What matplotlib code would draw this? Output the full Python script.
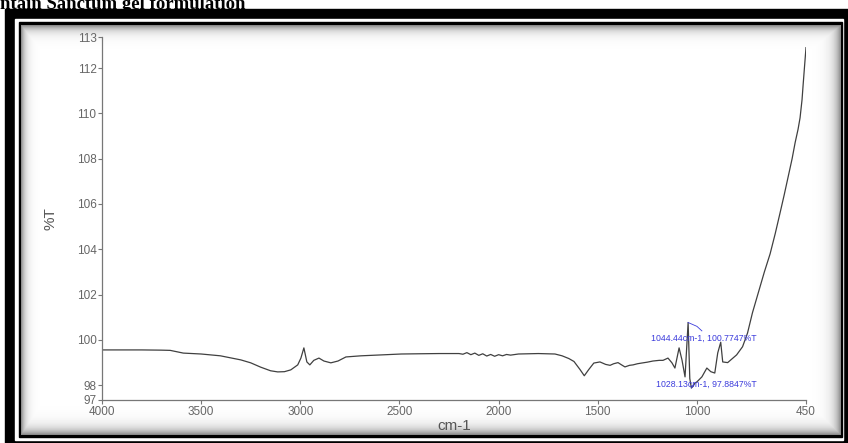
import numpy as np
import matplotlib
matplotlib.use("Agg")
import matplotlib.pyplot as plt
from matplotlib.patches import Rectangle

plt.rcParams['font.family'] = ['Liberation Sans', 'DejaVu Sans']

# FTIR spectrum
wavenumber = [4000, 3900, 3800, 3700, 3656, 3590, 3500, 3403, 3300, 3250, 3200, 3150,
              3114, 3080, 3048, 3013, 2997, 2982, 2967, 2952, 2932, 2906, 2881, 2846,
              2810, 2770, 2694, 2592, 2491, 2400, 2300, 2200, 2180, 2160, 2140, 2120,
              2100, 2080, 2060, 2040, 2020, 2000, 1980, 1960, 1940, 1900, 1800, 1716,
              1680, 1646, 1620, 1590, 1568, 1545, 1520, 1489, 1460, 1438, 1420, 1398,
              1380, 1363, 1340, 1322, 1300, 1272, 1250, 1222, 1190, 1171, 1146, 1126,
              1111, 1090, 1075, 1060, 1044.44, 1036, 1028.13, 1020, 1010, 1000, 975,
              950, 930, 910, 895, 880, 870, 845, 800, 770, 745, 720, 690, 660, 631,
              605, 581, 560, 540, 520, 505, 490, 480, 470, 465, 458, 450]
transmittance = [99.56, 99.56, 99.56, 99.55, 99.54, 99.42, 99.38, 99.30, 99.12, 98.99, 98.80, 98.64,
                 98.59, 98.60, 98.68, 98.90, 99.20, 99.65, 99.03, 98.90, 99.10, 99.20, 99.07, 98.99,
                 99.07, 99.25, 99.30, 99.34, 99.38, 99.39, 99.40, 99.40, 99.37, 99.44, 99.35, 99.42,
                 99.32, 99.39, 99.29, 99.36, 99.28, 99.35, 99.30, 99.36, 99.33, 99.38, 99.40, 99.38,
                 99.30, 99.18, 99.05, 98.70, 98.42, 98.70, 98.98, 99.03, 98.92, 98.88, 98.95, 99.00,
                 98.90, 98.81, 98.88, 98.90, 98.95, 98.99, 99.02, 99.07, 99.10, 99.10, 99.20, 98.99,
                 98.76, 99.65, 99.10, 98.37, 100.77, 98.30, 97.88, 97.95, 98.10, 98.15, 98.37,
                 98.76, 98.60, 98.54, 99.43, 99.90, 99.03, 99.00, 99.34, 99.70, 100.30, 101.20, 102.10, 103.00, 103.80,
                 104.70, 105.60, 106.40, 107.20, 108.00, 108.70, 109.30, 109.80, 110.60, 111.20, 112.00, 112.90]

x_ticks = [4000, 3500, 3000, 2500, 2000, 1500, 1000, 450]
x_labels = ['4000', '3500', '3000', '2500', '2000', '1500', '1000', '450']
y_ticks = [97.35, 98, 100, 102, 104, 106, 108, 110, 112, 113.37]
y_labels = ['97', '98', '100', '102', '104', '106', '108', '110', '112', '113']

peak_labels = ['1044.44cm-1, 100.7747%T', '1028.13cm-1, 97.8847%T']

W, H = 848, 443
fig = plt.figure(figsize=(W / 100, H / 100), dpi=100)

# screenshot frame (pixel coordinates)
bg = fig.add_axes([0, 0, 1, 1])
bg.add_patch(Rectangle((5, 9), W, H, color='black', zorder=1))
bg.add_patch(Rectangle((15, 19), 828, 421, color='white', zorder=1))
bg.add_patch(Rectangle((19, 22), 823, 415, color='black', zorder=1))
# grey drop shadow inside the panel
gx = np.arange(21, 841) + 0.5
gy = np.arange(25, 435) + 0.5
GX, GY = np.meshgrid(gx, gy)
shade = np.maximum.reduce([np.exp(-(GX - 21) / 4), np.exp(-(GY - 25) / 5),
                           np.exp(-(841 - GX) / 6), np.exp(-(435 - GY) / 6)])
img = 1 - 0.5 * shade
bg.imshow(img, cmap='gray', vmin=0, vmax=1, extent=(21, 841, 435, 25),
          interpolation='bilinear', aspect='auto', zorder=2)
bg.set_xlim(0, W)
bg.set_ylim(H, 0)
bg.axis('off')

fig.text(0.0, 1 - 9 / H, 'ntain Sanctum gel formulation', family='Liberation Serif',
         fontweight='bold', fontsize=13.5, va='baseline', ha='left')

# spectrum axes
ax = fig.add_axes([102 / W, 1 - 400 / H, (806 - 102) / W, (400 - 37) / H])
ax.patch.set_alpha(0)
ax.plot(wavenumber, transmittance, color='#404040', lw=0.9)
ax.set_xlim(4000, 450)
ax.set_ylim(97.35, 113.37)
ax.set_xticks(x_ticks)
ax.set_xticklabels(x_labels)
ax.set_yticks(y_ticks)
ax.set_yticklabels(y_labels)
for s in ['top', 'right']:
    ax.spines[s].set_visible(False)
for s in ['left', 'bottom']:
    ax.spines[s].set_color('#777777')
    ax.spines[s].set_linewidth(0.9)
ax.tick_params(colors='#777777', labelcolor='#666666', labelsize=8.5, length=3, width=0.8, pad=1)
ax.set_xlabel('cm-1', fontsize=11, color='#555555', labelpad=1)
ax.set_ylabel('%T', fontsize=11, color='#555555', labelpad=14)

blue = '#3c3cdc'
ax.text(1230, 100.08, peak_labels[0], fontsize=6.3, color=blue, va='center', ha='left')
ax.text(1205, 98.06, peak_labels[1], fontsize=6.3, color=blue, va='center', ha='left')
ax.plot([1044.44, 1000, 975], [100.77, 100.6, 100.4], color=blue, lw=0.6)
ax.plot([1028.13, 1020], [97.88, 98.0], color=blue, lw=0.6)

fig.savefig('out.png', dpi=100)
